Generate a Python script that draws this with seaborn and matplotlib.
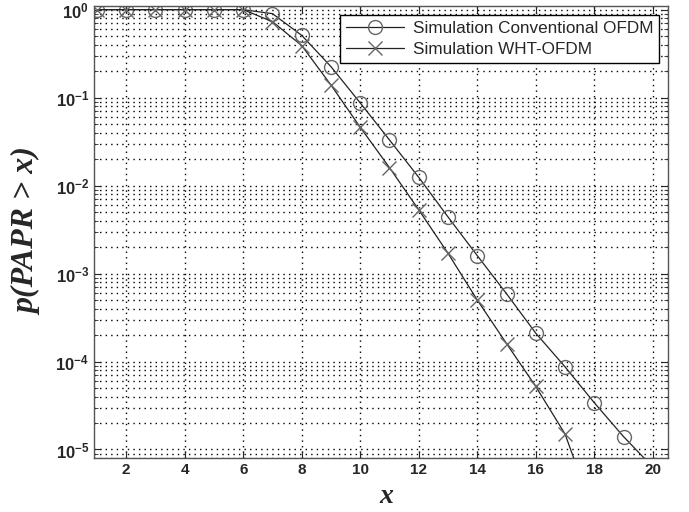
import numpy as np
import pandas as pd
import seaborn as sns
import matplotlib.pyplot as plt

# values (CCDF of PAPR)
x_conv = [1, 2, 3, 4, 5, 6, 7, 8, 9, 10, 11, 12, 13, 14, 15, 16, 17, 18, 19, 20]
p_conv = [1, 1, 1, 1, 1, 1, 0.9, 0.51, 0.225, 0.087, 0.033, 0.0124, 0.0044,
          0.0016, 5.9e-4, 2.1e-4, 8.7e-5, 3.4e-5, 1.4e-5, 6.3e-6]
x_wht = [1, 2, 3, 4, 5, 6, 7, 8, 9, 10, 11, 12, 13, 14, 15, 16, 17, 18]
p_wht = [1, 1, 1, 1, 1, 1, 0.73, 0.39, 0.139, 0.046, 0.016, 0.0053, 0.0017,
         5.0e-4, 1.6e-4, 5.2e-5, 1.5e-5, 1.8e-6]

labels = ['Simulation Conventional OFDM', 'Simulation WHT-OFDM']
xticks = [2, 4, 6, 8, 10, 12, 14, 16, 18, 20]
yticks = [1e-5, 1e-4, 1e-3, 1e-2, 1e-1, 1e0]
ytick_labels = [r'$\mathbf{10^{-5}}$', r'$\mathbf{10^{-4}}$', r'$\mathbf{10^{-3}}$',
                r'$\mathbf{10^{-2}}$', r'$\mathbf{10^{-1}}$', r'$\mathbf{10^{0}}$']

sns.set_style('ticks')
plt.rcParams['font.family'] = ['Liberation Sans', 'DejaVu Sans']
plt.rcParams['mathtext.fontset'] = 'custom'
plt.rcParams['mathtext.rm'] = 'Liberation Sans'
plt.rcParams['mathtext.bf'] = 'Liberation Sans:bold'

df_conv = pd.DataFrame({'x': x_conv, 'p': p_conv})
df_wht = pd.DataFrame({'x': x_wht, 'p': p_wht})

fig, ax = plt.subplots(figsize=(6.89, 5.12), dpi=100)
fig.subplots_adjust(left=94 / 689, right=668 / 689, bottom=1 - 458 / 512, top=1 - 6 / 512)

sns.lineplot(x='x', y='p', data=df_conv, ax=ax, label=labels[0], color='#222222',
             linewidth=0.9, marker='o', markersize=10, markerfacecolor='none',
             markeredgecolor='#666666', markeredgewidth=1.0)
sns.lineplot(x='x', y='p', data=df_wht, ax=ax, label=labels[1], color='#222222',
             linewidth=0.9, marker='x', markersize=10,
             markeredgecolor='#666666', markeredgewidth=1.0)

ax.set_yscale('log')
ax.set_xlim(0.9, 20.52)
ax.set_ylim(8e-6, 1.1)
ax.set_xticks(xticks)
ax.set_xticklabels([str(t) for t in xticks], fontweight='bold', fontsize=11)
ax.set_yticks(yticks)
ax.set_yticklabels(ytick_labels, fontsize=12)

# MATLAB-like dotted grid
ax.grid(which='major', linestyle=(0, (1, 3)), color='black', linewidth=1.0)
ax.grid(which='minor', axis='y', linestyle=(0, (1, 3)), color='black', linewidth=1.0)
ax.tick_params(which='both', direction='in', top=True, right=True)
ax.tick_params(which='major', length=5)
ax.tick_params(which='minor', length=3)
for s in ax.spines.values():
    s.set_color('#555555')
    s.set_linewidth(1.0)

ax.set_xlabel('x', fontfamily='Liberation Serif', fontstyle='italic', fontweight='bold',
              fontsize=20, va='center')
ax.set_ylabel('p(PAPR > x)', fontfamily='Liberation Serif', fontstyle='italic',
              fontweight='bold', fontsize=23)
ax.xaxis.set_label_coords(0.51, -0.085)
ax.yaxis.set_label_coords(-0.09, 0.5)

leg = plt.legend(loc='upper right', fontsize=12.3, handlelength=3.4, handletextpad=0.5,
                 fancybox=False, framealpha=1, edgecolor='black', borderaxespad=0.5,
                 borderpad=0.35, labelspacing=0.4)
leg.get_frame().set_linewidth(1.0)

plt.savefig('out.png')
